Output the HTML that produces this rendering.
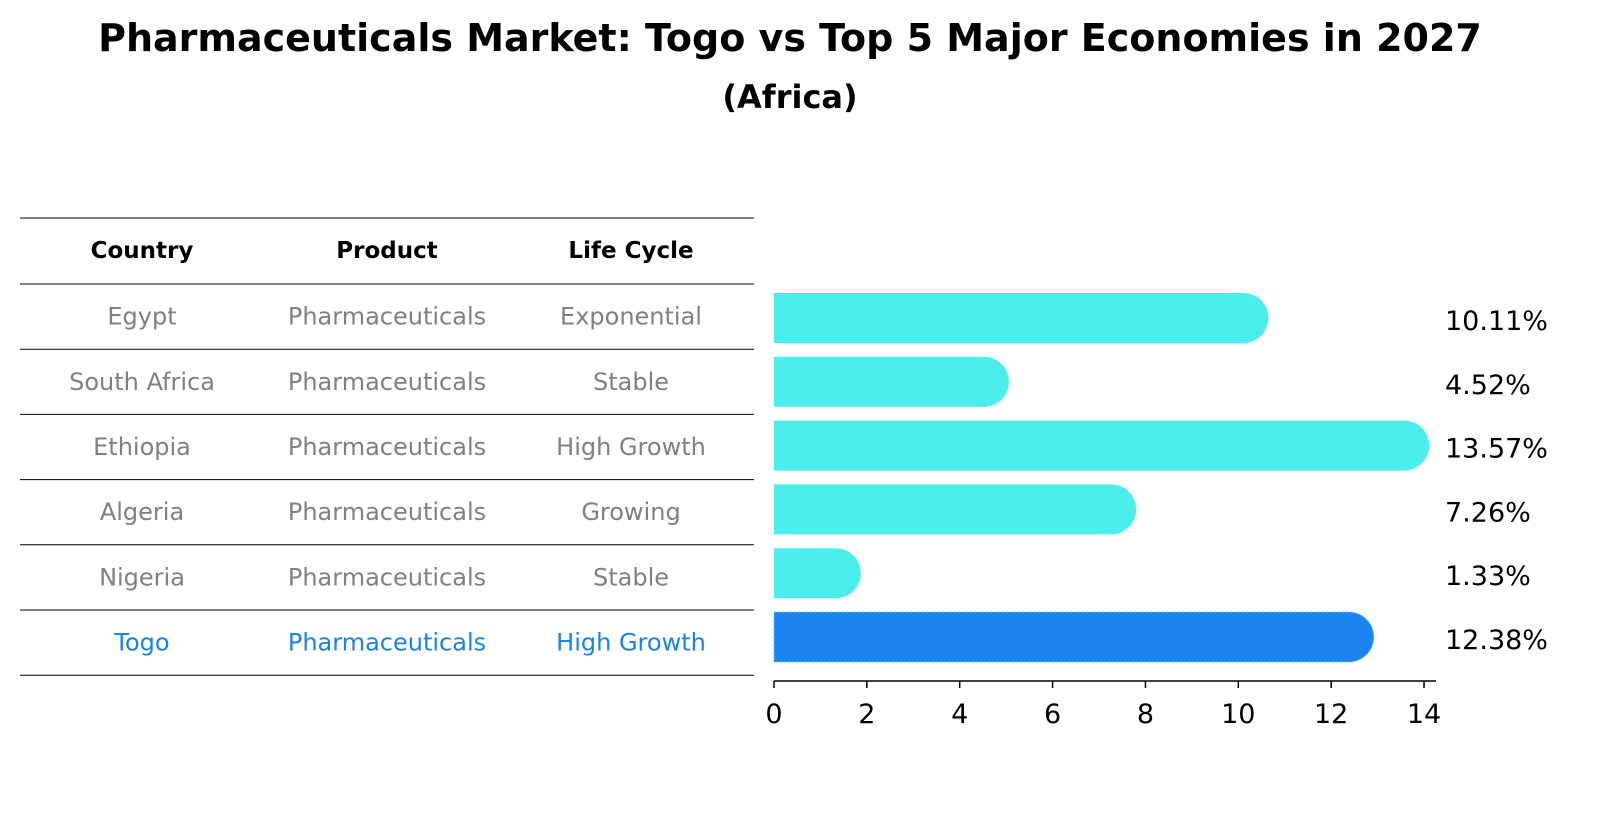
<!DOCTYPE html>
<html><head><meta charset="utf-8"><style>
body{margin:0;background:#fff;font-family:"Liberation Sans","DejaVu Sans",sans-serif;}
#wrap{position:relative;width:1604px;height:823px;overflow:hidden;}
</style></head><body>
<div id="wrap">
<svg id="svg" width="1604" height="823" xmlns="http://www.w3.org/2000/svg" font-family="DejaVu Sans, Liberation Sans, sans-serif">
<text x="790" y="51" text-anchor="middle" font-size="38" font-weight="bold">Pharmaceuticals Market: Togo vs Top 5 Major Economies in 2027</text>
<text x="790" y="108" text-anchor="middle" font-size="32" font-weight="bold">(Africa)</text>
<g id="table"></g>
<g id="bars"></g>
</svg>
</div>
<script>
const countries=["Egypt","South Africa","Ethiopia","Algeria","Nigeria","Togo"];
const products=["Pharmaceuticals","Pharmaceuticals","Pharmaceuticals","Pharmaceuticals","Pharmaceuticals","Pharmaceuticals"];
const lifeCycles=["Exponential","Stable","High Growth","Growing","Stable","High Growth"];
const values=[10.11,4.52,13.57,7.26,1.33,12.38];
const tickLabels=[0,2,4,6,8,10,12,14];
const highlight="Togo";

const NS="http://www.w3.org/2000/svg";
function mk(tag,attrs,parent){const e=document.createElementNS(NS,tag);for(const k in attrs)e.setAttribute(k,attrs[k]);parent.appendChild(e);return e;}
const table=document.getElementById('table');
const bars=document.getElementById('bars');
const x0=774, pxPer=46.43;
function xs(v){return x0+v*pxPer;}
const rowTop=284, rowH=65.2;
function rowY(i){return rowTop+rowH*(i+0.5);}
function barY(i){return 318+i*63.8;}
const colX=[142,387,631];
for(let i=0;i<=7;i++){
  const y= i===0?218:rowTop+rowH*(i-1);
  const l=mk('line',{x1:20,x2:754,y1:y,y2:y,stroke:'#000','stroke-width':1},table);
  
  
}
["Country","Product","Life Cycle"].forEach((h,j)=>{
  const t=mk('text',{x:colX[j],y:258,'text-anchor':'middle','font-size':23,'font-weight':'bold'},table);
  t.textContent=h;
  
  
});
countries.forEach((c,i)=>{
  const col=c===highlight?'#1a83e6':'#808080';
  [c,products[i],lifeCycles[i]].forEach((v,j)=>{
    const t=mk('text',{x:colX[j],y:rowY(i)+8,'text-anchor':'middle','font-size':24,fill:col},table);
    t.textContent=v;
    
    
  });
});
values.forEach((v,i)=>{
  const y=barY(i), h=50, r=25;
  const col=countries[i]===highlight?'#1a83f0':'#4aeeea';
  const xe=xs(v);
  const p=mk('path',{d:`M${x0},${y-h/2} L${xe},${y-h/2} A${r},${r} 0 0 1 ${xe},${y+h/2} L${x0},${y+h/2} Z`,fill:col},bars);
  if(countries[i]===highlight){p.setAttribute('stroke','#7fbfff');p.setAttribute('stroke-dasharray','2,2');p.setAttribute('stroke-width','1');}
  
  
  const t=mk('text',{x:1445,y:y+12,'font-size':27},bars);
  t.textContent=v.toFixed(2)+'%';
  
  
});
const ax=mk('line',{x1:x0,x2:1436,y1:681,y2:681,stroke:'#000','stroke-width':1.5},bars);


tickLabels.forEach(tv=>{
  const tk=mk('line',{x1:xs(tv),x2:xs(tv),y1:681,y2:688,stroke:'#000','stroke-width':1.5},bars);
  
  
  const t=mk('text',{x:xs(tv),y:723,'text-anchor':'middle','font-size':27},bars);
  t.textContent=tv;
  
  
});
</script>
</body></html>
